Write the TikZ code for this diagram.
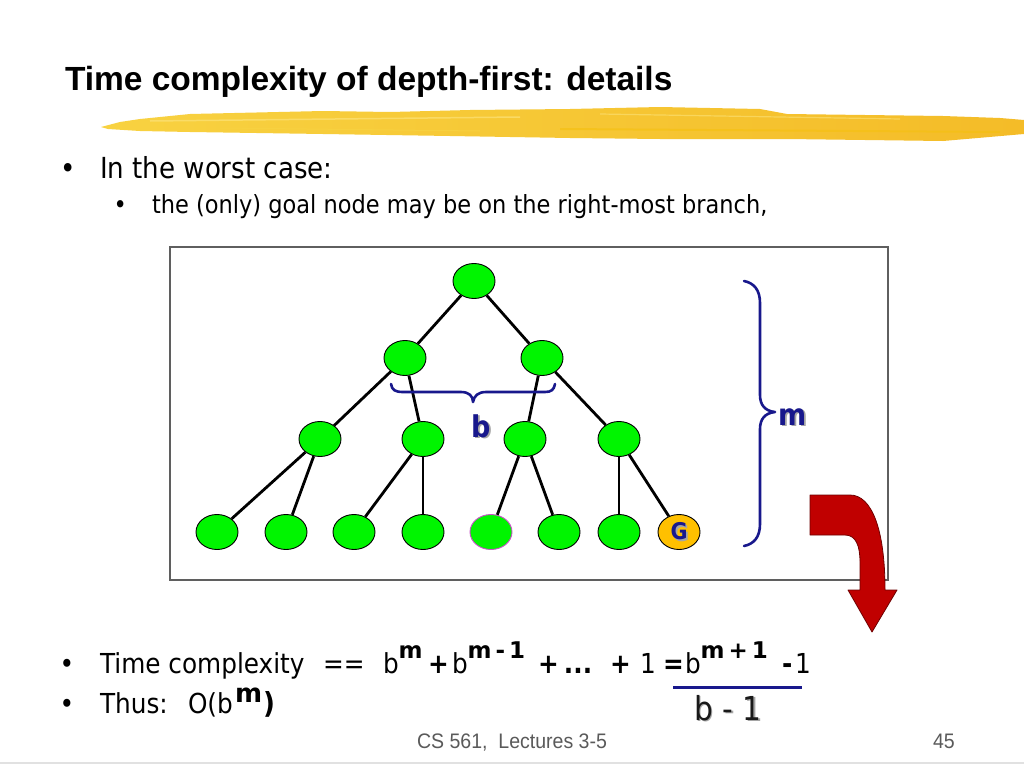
\documentclass[tikz,border=0pt]{standalone}
\usepackage{fontspec}
\setmainfont{DejaVu Sans}[FakeStretch=0.9]
\newfontfamily\titlefont{Liberation Sans}
\newfontfamily\footfont{Liberation Sans}[FakeStretch=0.93]
\newfontfamily\supfont{DejaVu Sans}
\usetikzlibrary{shapes.geometric}

\definecolor{nodegreen}{RGB}{0,245,0}
\definecolor{goldfill}{RGB}{255,192,0}
\definecolor{navy}{RGB}{24,24,140}
\definecolor{arrowred}{RGB}{192,0,0}
\definecolor{arrowedge}{RGB}{110,0,0}
\definecolor{hlyellow}{RGB}{245,192,15}
\definecolor{hllight}{RGB}{248,210,65}
\definecolor{hlright}{RGB}{244,188,40}
\definecolor{hlstreak}{RGB}{252,226,120}
\definecolor{footgray}{RGB}{90,90,90}
\definecolor{framegray}{RGB}{95,95,95}
\definecolor{shadowgray}{RGB}{165,165,165}
\definecolor{pinkedge}{RGB}{200,80,200}
\definecolor{bottomgray}{RGB}{225,225,225}

\newcommand\fseg[2]{\makebox[#1pt][l]{#2}}
\newcommand\supm[1]{\raisebox{15pt}{\supfont\bfseries\fontsize{23}{23}\selectfont #1}}
\newcommand\shadowtext[1]{\makebox[0pt][l]{\kern1.8pt\raisebox{-1.8pt}{\textcolor{shadowgray}{#1}}}#1}

\tikzset{
  tnode/.style={ellipse, draw=black, line width=0.9pt, fill=nodegreen,
    minimum width=42pt, minimum height=35pt, inner sep=0pt},
  goalnode/.style={tnode, fill=goldfill},
  treeline/.style={line width=2.8pt, black},
  txt/.style={anchor=base west, inner sep=0pt, outer sep=0pt},
  bodyfont/.style={font=\fontsize{29}{34}\selectfont},
  subfont/.style={font=\fontsize{25}{30}\selectfont},
  formfont/.style={font=\fontsize{27.5}{33}\selectfont},
  bracestyle/.style={navy, line width=2.6pt, line cap=round, line join=round},
}

\begin{document}
\begin{tikzpicture}[x=1pt,y=-1pt]
\useasboundingbox (0,0) rectangle (1024,768);
\fill[white] (0,0) rectangle (1024,768);

% highlighter stroke under the title
\shade[left color=hllight, middle color=hlyellow, right color=hlright]
  (101,127) -- (120,122) -- (140,119) -- (190,114) -- (323,111) -- (390,112)
  -- (470,110) -- (570,109) -- (660,107) -- (760,109) -- (787,114) -- (943,116)
  -- (1000,118) -- (1024,120) -- (1024,134) -- (943,141) -- (787,139)
  -- (660,139) -- (570,138) -- (450,136) -- (323,134) -- (190,132) -- (140,131)
  -- (108,129) -- cycle;
\draw[hlstreak, line width=1.5pt, opacity=0.7] (150,121) -- (520,117);
\draw[hlstreak, line width=1.2pt, opacity=0.6] (600,114) -- (900,119);
\draw[hlyellow, line width=2pt, opacity=0.6] (560,129) -- (1000,132);
\draw[hllight, line width=1pt, opacity=0.8] (220,128) -- (480,131);

% title
\node[txt, font=\titlefont\bfseries\fontsize{33.5}{38}\selectfont] (title) at (65,90)
  {Time complexity of depth-first: details};

% bullets
\node[txt, bodyfont] (bu1) at (60,178) {•};
\node[txt, bodyfont] (t1) at (100,178) {In the worst case:};
\node[txt, subfont] (bu2) at (113.5,213) {•};
\node[txt, subfont] (t2) at (152,213) {the (only) goal node may be on the right-most branch,};

% frame
\draw[framegray, line width=1.2pt] (170,247) rectangle (888,580);

% tree nodes
\node[tnode] (r) at (474,281) {};
\node[tnode] (a1) at (405,358) {};
\node[tnode] (a2) at (542,358) {};
\node[tnode] (c1) at (320,439) {};
\node[tnode] (c2) at (423,439) {};
\node[tnode] (c3) at (525,439) {};
\node[tnode] (c4) at (619,439) {};
\node[tnode] (d1) at (217,532) {};
\node[tnode] (d2) at (286,532) {};
\node[tnode] (d3) at (354,532) {};
\node[tnode] (d4) at (423,532) {};
\node[tnode, draw=pinkedge] (d5) at (491,532) {};
\node[tnode] (d6) at (559,532) {};
\node[tnode] (d7) at (619,532) {};
\node[goalnode, text=navy, font=\bfseries\fontsize{23}{23}\selectfont] (d8) at (679,532) {\shadowtext{G}};

% tree edges
\draw[treeline] (r) -- (a1);
\draw[treeline] (r) -- (a2);
\draw[treeline] (a1) -- (c1);
\draw[treeline] (a1) -- (c2);
\draw[treeline] (a2) -- (c3);
\draw[treeline] (a2) -- (c4);
\draw[treeline] (c1) -- (d1);
\draw[treeline] (c1) -- (d2);
\draw[treeline] (c2) -- (d3);
\draw[treeline] (c2) -- (d4);
\draw[treeline] (c3) -- (d5);
\draw[treeline] (c3) -- (d6);
\draw[treeline] (c4) -- (d7);
\draw[treeline] (c4) -- (d8);

% brace b
\draw[bracestyle] (391,384) .. controls (392,390) and (395,392) .. (403,392)
  -- (461,392) .. controls (469,392) and (473,396) .. (473,402)
  .. controls (474,396) and (478,392) .. (486,392)
  -- (545,392) .. controls (551,392) and (554,390) .. (555,384);
\node[txt, text=navy, font=\bfseries\fontsize{30}{32}\selectfont] (blab) at (471,437) {\shadowtext{b}};

% brace m
\draw[bracestyle] (744,281) .. controls (754,283) and (760,290) .. (760,303)
  -- (760,395) .. controls (760,405) and (765,411) .. (775,412)
  .. controls (765,413) and (760,419) .. (760,429)
  -- (760,524) .. controls (760,537) and (754,544) .. (744,546);
\node[txt, text=navy, font=\bfseries\fontsize{30}{32}\selectfont] (mlab) at (778,425) {\shadowtext{m}};

% red arrow
\draw[fill=arrowred, draw=arrowedge, line width=0.8pt, line join=round]
  (810,495) -- (850,495) .. controls (872,495) and (885,530) .. (885,590)
  -- (897,590) -- (872,632) -- (848,590) -- (860,590) -- (860,562)
  .. controls (860,546) and (856,535) .. (845,535) -- (810,535) -- cycle;

% formula lines
\node[txt, formfont] (bu3) at (59.7,673) {•};
\node[txt, formfont] (f1) at (100,673)
  {\fseg{223}{Time complexity}\fseg{60}{==}\fseg{45}{b\supm{m}}\fseg{24}{\textbf{+}}%
   \fseg{86}{b\supm{m\kern4pt-\kern4pt1}}\fseg{26}{\textbf{+}}\fseg{46}{\textbf{...}}%
   \fseg{30}{\textbf{+}}\fseg{23}{1}\fseg{22}{\textbf{=}}%
   \fseg{97}{b\supm{m\kern4pt+\kern4pt1}}\fseg{13}{\textbf{-}}1};
\node[txt, formfont] (bu4) at (59.7,713) {•};
\node[txt, formfont] (f2) at (100,713)
  {\fseg{88}{Thus:}\fseg{47}{O(b}\fseg{28}{\raisebox{11pt}{\supfont\bfseries\fontsize{26}{26}\selectfont m}}%
   {\bfseries\fontsize{29}{29}\selectfont )}};

% fraction
\coordinate (fl) at (673,687);
\coordinate (fr) at (802,687);
\draw[navy, line width=3pt] (fl) -- (fr);
\node[txt, font=\fontsize{33}{33}\selectfont, text={rgb,255:red,25;green,25;blue,25}] (den) at (694,720)
  {\shadowtext{b - 1}};

% footer
\node[txt, text=footgray, font=\footfont\fontsize{21}{24}\selectfont] (foot) at (417,748)
  {CS 561,\ \ Lectures 3-5};
\node[txt, text=footgray, font=\footfont\fontsize{21}{24}\selectfont] (pnum) at (933,748) {45};
\draw[bottomgray, line width=1.5pt] (0,763) -- (1024,763);
\end{tikzpicture}
\end{document}
